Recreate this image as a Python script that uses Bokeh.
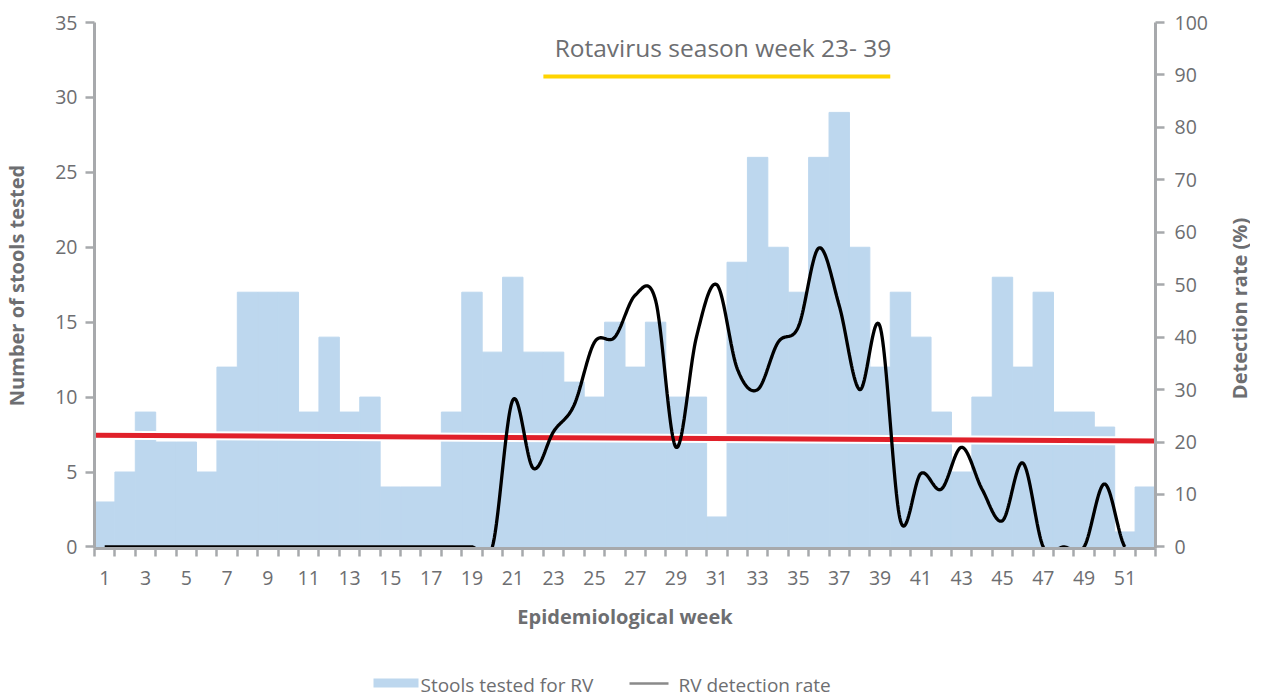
import numpy as np
from bokeh.plotting import figure
from bokeh.layouts import column, row
from bokeh.models import (Range1d, LinearAxis, FixedTicker, Label)
from bokeh.core.properties import value
from bokeh.embed import file_html
from bokeh.resources import INLINE

# ---------------- data ----------------
weeks = list(range(1, 53))
stools_tested = [3, 5, 9, 7, 7, 5, 12, 17, 17, 17, 9, 14, 9, 10, 4, 4, 4, 9, 17, 13,
                 18, 13, 13, 11, 10, 15, 12, 15, 10, 10, 2, 19, 26, 20, 17, 26, 29, 20, 12, 17,
                 14, 9, 5, 10, 18, 12, 17, 9, 9, 8, 1, 4]
rate_weeks = list(range(1, 52))
detection_rate = [0, 0, 0, 0, 0, 0, 0, 0, 0, 0, 0, 0, 0, 0, 0, 0, 0, 0, 0, 0,
                  28, 15, 22, 27, 39, 40, 48, 47, 19, 40, 50, 34, 30, 39, 42, 57, 46, 30, 42, 5,
                  14, 11, 19, 11, 5, 16, 0, 0, 0, 12, 0]
tick_weeks = list(range(1, 52, 2))
trend_rate = [21.3, 20.2]          # red reference line, start / end (%)
season_start, season_end = 23, 39
season_text = "Rotavirus season week 23- 39"
legend_labels = ["Stools tested for RV", "RV detection rate"]
right_title = "Detection rate (%)"

# ---------------- styles ----------------
FONT = "Open Sans"
GREY_TXT = "#6d6e71"
GREY_AX = "#a7a9ac"
BAR = "#bdd7ee"

PW, PH = 1217, 648          # main plot canvas
BL, BR, BT, BB = 87, 62, 22, 100


def catmull_rom(xs, ys, n=30):
    xs = np.asarray(xs, float)
    ys = np.asarray(ys, float)
    py = np.concatenate([[ys[0]], ys, [ys[-1]]])
    out_x, out_y = [], []
    for i in range(len(xs) - 1):
        y0, y1 = py[i + 1], py[i + 2]
        m0 = (py[i + 2] - py[i]) / 2.0
        m1 = (py[i + 3] - py[i + 1]) / 2.0
        t = np.linspace(0, 1, n, endpoint=(i == len(xs) - 2))
        h00 = 2 * t**3 - 3 * t**2 + 1
        h10 = t**3 - 2 * t**2 + t
        h01 = -2 * t**3 + 3 * t**2
        h11 = t**3 - t**2
        out_x.extend(xs[i] + t * (xs[i + 1] - xs[i]))
        out_y.extend(h00 * y0 + h10 * m0 + h01 * y1 + h11 * m1)
    return out_x, out_y


p = figure(width=PW, height=PH, output_backend="svg", toolbar_location=None,
           x_range=Range1d(0.5, len(weeks) + 0.5), y_range=Range1d(-0.105, 35),
           min_border_left=BL, min_border_right=BR, min_border_top=BT, min_border_bottom=BB,
           x_axis_location=None, y_axis_location=None)
p.outline_line_color = None
p.grid.visible = False
p.background_fill_color = "white"
p.border_fill_color = "white"
p.extra_y_ranges = {"rate": Range1d(-0.3, 100)}

# bars
p.vbar(x=weeks, top=stools_tested, width=1.0, fill_color=BAR, line_color=BAR, line_width=1)

# red reference line with white edge
xr = [0.5, len(weeks) + 0.5]
p.line(xr, trend_rate, y_range_name="rate", line_color="white", line_width=9)
p.line(xr, trend_rate, y_range_name="rate", line_color="#e0202a", line_width=5)

# detection rate smooth line
sx, sy = catmull_rom(rate_weeks, detection_rate)
p.line(sx, sy, y_range_name="rate", line_color="black", line_width=3.3)

# season marker
p.line([season_start - 0.5, season_end + 0.5], [31.4, 31.4], line_color="#ffd400", line_width=4)
p.add_layout(Label(x=(season_start + season_end) / 2 + 0.3, y=33.3, text=season_text,
                   text_align="center", text_baseline="middle", text_font=FONT,
                   text_font_size="24.5px", text_color=GREY_TXT))

# axes
def style_axis(ax):
    ax.axis_line_color = GREY_AX
    ax.axis_line_width = 3
    ax.major_tick_line_color = GREY_AX
    ax.major_tick_line_width = 2.5
    ax.minor_tick_line_color = GREY_AX
    ax.minor_tick_line_width = 2.5
    ax.major_label_text_font = FONT
    ax.major_label_text_font_size = "19.5px"
    ax.major_label_text_color = GREY_TXT
    ax.axis_label_text_font = FONT
    ax.axis_label_text_font_style = "bold"
    ax.axis_label_text_font_size = "20px"
    ax.axis_label_text_color = GREY_TXT

yl = LinearAxis(ticker=FixedTicker(ticks=list(range(0, 36, 5))), axis_label="Number of stools tested")
style_axis(yl)
yl.major_tick_out = 9
yl.major_tick_in = 0
yl.minor_tick_out = 0
yl.major_label_standoff = 8
yl.axis_label_standoff = 22
p.add_layout(yl, "left")

yr = LinearAxis(y_range_name="rate", ticker=FixedTicker(ticks=list(range(0, 101, 10))))
style_axis(yr)
yr.major_tick_out = 9
yr.major_tick_in = 0
yr.minor_tick_out = 0
yr.major_label_standoff = 10
p.add_layout(yr, "right")

xa = LinearAxis(ticker=FixedTicker(ticks=tick_weeks,
                                   minor_ticks=[w - 0.5 for w in weeks] + [weeks[-1] + 0.5]),
                axis_label="Epidemiological week")
style_axis(xa)
xa.major_tick_out = 0
xa.major_tick_in = 0
xa.minor_tick_out = 8
xa.minor_tick_in = 0
xa.major_label_standoff = 14
xa.axis_label_standoff = 15
p.add_layout(xa, "below")

# ---------------- right title strip (reads bottom-to-top) ----------------
rf = figure(width=33, height=PH, output_backend="svg", toolbar_location=None,
            x_range=Range1d(0, 1), y_range=Range1d(0, 1),
            min_border_left=0, min_border_right=0, min_border_top=BT, min_border_bottom=BB,
            x_axis_location=None, y_axis_location=None)
rf.outline_line_color = None
rf.grid.visible = False
rf.add_layout(Label(x=22, y=240, x_units="screen", y_units="screen", angle=np.pi / 2,
                    text=right_title, text_align="center", text_baseline="middle",
                    text_font=FONT, text_font_style="bold", text_font_size="20px",
                    text_color=GREY_TXT))

# ---------------- legend strip ----------------
lg = figure(width=PW, height=50, output_backend="svg", toolbar_location=None,
            x_range=Range1d(95, 1163), y_range=Range1d(0, 50),
            min_border_left=BL, min_border_right=BR, min_border_top=0, min_border_bottom=0,
            x_axis_location=None, y_axis_location=None)
lg.outline_line_color = None
lg.grid.visible = False
lg.quad(left=[381], right=[426], bottom=[11], top=[20], fill_color=BAR, line_color=None)
lg.segment(x0=[637], y0=[15], x1=[676], y1=[15], line_color="#8a8a8a", line_width=2.5)
lg.text(x=[428, 686], y=[14, 14], text=legend_labels, text_font=value(FONT),
        text_font_size="19px", text_color=GREY_TXT, text_align="left", text_baseline="middle")

open("out.html", "w").write(file_html(column(row(p, rf, spacing=0), lg, spacing=0), INLINE))
